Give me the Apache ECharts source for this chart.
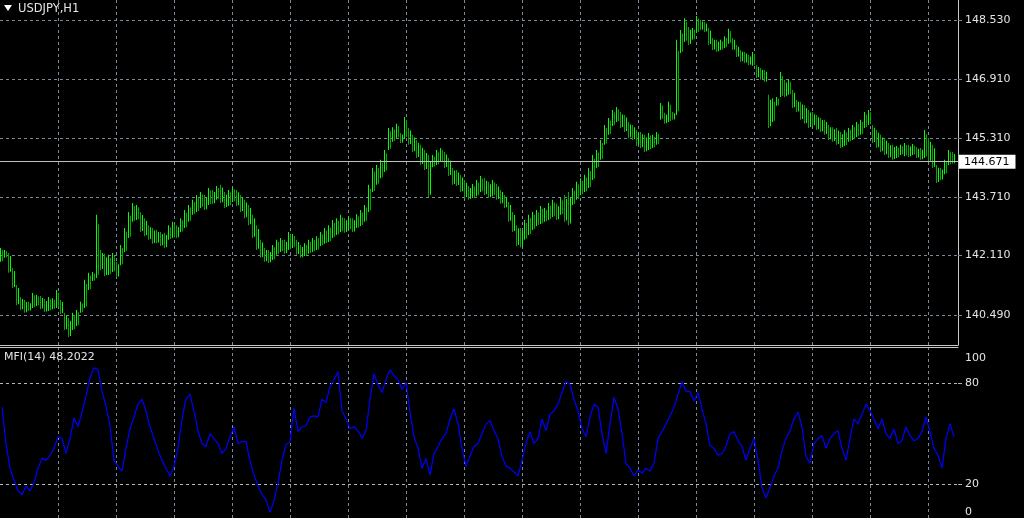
<!DOCTYPE html>
<html><head><meta charset="utf-8">
<script src="https://cdn.jsdelivr.net/npm/echarts@6/dist/echarts.min.js"></script>
<style>html,body{margin:0;padding:0;background:#000;}#c{width:1024px;height:518px;}</style>
</head><body><div id="c"></div>
<script>
const symbolName = 'USDJPY,H1';
const indicatorName = 'MFI(14)';
const lastPrice = 144.671;
const lastMfi = 48.2022;
const priceTicks = [140.49, 142.11, 143.71, 145.31, 146.91, 148.53];
const mfiLevels = [20, 80];
const mfiLabels = [0, 20, 80, 100];

const barHigh = [
142.32,142.26,142.18,141.77,141.31,140.98,140.90,140.85,141.09,141.04,
141.01,140.93,140.98,140.95,141.17,140.90,140.55,140.41,140.55,140.63,
140.85,141.45,141.64,141.66,143.22,142.26,142.16,142.13,142.18,141.94,
142.40,142.86,143.30,143.54,143.49,143.30,143.13,142.94,142.86,142.81,
142.75,142.73,142.94,143.03,142.94,143.13,143.35,143.49,143.63,143.76,
143.84,143.76,143.95,143.90,144.01,144.04,143.84,143.90,143.98,143.90,
143.76,143.63,143.49,143.22,142.94,142.54,142.32,142.26,142.40,142.54,
142.59,142.54,142.75,142.70,142.54,142.40,142.45,142.54,142.59,142.64,
142.75,142.86,142.94,143.08,143.13,143.22,143.13,143.19,143.13,143.24,
143.35,143.49,144.04,144.50,144.58,144.72,144.99,145.59,145.61,145.70,
145.45,145.89,145.59,145.40,145.26,145.13,144.99,144.85,144.85,144.99,
145.04,144.93,144.77,144.50,144.44,144.31,144.17,144.01,144.06,144.17,
144.28,144.22,144.12,144.17,144.06,143.90,143.76,143.57,143.30,142.94,
142.86,143.08,143.22,143.30,143.35,143.46,143.41,143.54,143.63,143.52,
143.68,143.76,143.84,143.95,144.12,144.22,144.31,144.50,144.85,144.99,
145.26,145.67,145.86,146.08,146.16,146.02,145.94,145.75,145.67,145.53,
145.48,145.40,145.45,145.40,145.48,146.27,146.00,146.30,146.02,147.99,
148.26,148.58,148.34,148.31,148.64,148.53,148.48,148.31,148.04,147.99,
147.99,148.09,148.29,148.04,147.85,147.71,147.66,147.58,147.66,147.30,
147.22,147.17,146.49,146.40,146.43,147.11,146.90,146.90,146.62,146.35,
146.30,146.21,146.08,146.02,145.94,145.86,145.81,145.67,145.61,145.59,
145.48,145.53,145.59,145.67,145.75,145.81,146.02,146.08,145.67,145.53,
145.40,145.31,145.18,145.13,145.10,145.13,145.18,145.13,145.15,145.07,
145.04,145.53,145.31,145.13,144.58,144.50,144.72,144.99,144.93
];
const barLow = [
141.94,142.05,141.64,141.23,140.76,140.63,140.55,140.60,140.68,140.74,
140.65,140.57,140.60,140.65,140.68,140.52,140.08,139.89,140.08,140.19,
140.55,140.68,141.17,141.42,141.50,141.72,141.55,141.58,141.66,141.52,
141.85,142.21,142.59,143.03,143.08,142.75,142.64,142.54,142.43,142.45,
142.37,142.32,142.54,142.59,142.59,142.75,142.86,143.03,143.22,143.30,
143.41,143.35,143.49,143.52,143.63,143.54,143.41,143.46,143.57,143.46,
143.30,143.13,142.94,142.59,142.26,142.05,141.94,141.91,141.99,142.13,
142.21,142.16,142.26,142.32,142.13,142.05,142.10,142.16,142.21,142.26,
142.37,142.43,142.48,142.59,142.67,142.75,142.73,142.81,142.75,142.86,
142.92,143.03,143.30,143.84,144.04,144.22,144.39,144.99,145.21,145.31,
145.18,145.31,145.13,144.93,144.77,144.58,144.44,143.71,144.52,144.58,
144.66,144.50,144.28,144.04,144.01,143.84,143.68,143.63,143.68,143.73,
143.84,143.76,143.68,143.73,143.63,143.52,143.41,143.03,142.75,142.37,
142.34,142.54,142.67,142.81,142.92,142.97,143.03,143.08,143.16,143.08,
143.22,143.03,142.94,143.49,143.63,143.76,143.84,143.95,144.17,144.50,
144.72,145.13,145.40,145.64,145.75,145.59,145.48,145.31,145.26,145.10,
145.04,144.93,144.99,145.04,145.13,145.81,145.70,145.75,145.81,145.94,
147.63,147.93,147.85,147.99,148.18,148.26,148.20,147.85,147.71,147.66,
147.71,147.77,147.88,147.71,147.52,147.39,147.36,147.30,147.28,146.95,
146.90,146.84,145.59,145.75,146.19,146.43,146.43,146.49,146.13,146.02,
145.81,145.70,145.59,145.64,145.53,145.48,145.40,145.26,145.21,145.13,
145.04,145.10,145.21,145.26,145.34,145.40,145.59,145.67,145.18,145.04,
144.93,144.85,144.77,144.72,144.77,144.85,144.82,144.80,144.85,144.77,
144.72,144.77,144.66,144.50,144.09,144.17,144.33,144.58,144.61
];
const mfi = [
65.6,44.1,29.5,22.5,16.1,13.8,19.0,16.1,20.8,29.5,
35.3,34.1,37.1,41.2,48.1,47.0,38.2,47.0,59.2,54.0,
62.7,72.0,83.1,88.9,87.8,74.9,66.2,54.6,34.1,30.7,
27.8,41.2,52.8,59.8,67.4,70.3,63.3,54.0,47.0,40.0,
34.1,29.5,24.9,30.7,41.2,58.6,70.3,73.2,63.3,51.6,
44.1,42.3,49.9,47.0,44.1,38.2,41.2,48.1,54.0,44.1,
45.2,45.2,33.6,25.4,19.0,13.8,10.9,3.3,10.3,20.8,
34.1,43.5,45.2,65.0,51.1,54.0,54.6,59.8,60.4,59.8,
70.3,68.5,77.8,81.9,86.6,63.3,58.6,52.8,54.0,51.6,
47.0,51.6,70.3,85.4,79.0,74.3,81.9,87.8,84.2,81.9,
76.1,80.2,62.7,48.1,41.2,29.5,35.3,25.4,38.2,42.3,
47.0,49.9,58.6,64.5,55.7,41.2,30.7,36.5,42.3,44.1,
49.9,55.7,57.5,51.6,47.0,36.5,30.7,29.5,27.2,24.9,
34.1,44.1,51.1,44.1,47.0,58.6,51.6,61.6,63.3,67.4,
74.3,80.8,79.0,70.3,63.3,52.8,48.1,59.8,67.4,65.6,
49.9,38.2,55.7,71.4,64.5,49.9,32.4,29.5,24.9,28.4,
26.6,29.5,27.8,32.4,47.0,51.1,55.7,60.4,65.6,73.2,
80.8,74.9,74.9,69.1,74.3,64.5,55.7,42.9,41.2,37.1,
38.2,42.3,49.9,51.1,45.8,42.3,34.1,41.2,47.0,34.1,
17.9,12.0,17.9,24.9,29.5,40.0,47.0,51.6,58.6,62.7,
54.0,36.5,32.4,44.1,47.0,48.7,41.2,47.0,49.9,51.6,
41.2,34.1,47.0,58.6,55.7,61.6,67.4,63.3,58.6,52.8,
58.6,49.9,47.0,52.8,44.1,45.8,54.0,48.7,45.8,47.0,
51.1,59.8,51.1,41.2,37.1,29.5,47.0,55.7,48.2
];

const N = barHigh.length;
const barData = barHigh.map((h, i) => {
  const mid = (h + barLow[i]) / 2;
  const prev = i > 0 ? (barHigh[i-1] + barLow[i-1]) / 2 : mid;
  return [i + 0.5, barLow[i], h, mid >= prev ? 1 : 0];
});
const mfiData = mfi.map((v, i) => [i + 0.5, v]);

const FONT = 'DejaVu Sans';
const TXT = '#e4e4e4';
const GRIDC = '#778899';
const BORDER = '#c8c8c8';
const BRIGHT = '#00ff00';
const DARK = '#00a800';

const xAxisBase = (gi, pos) => ({
  type: 'value', gridIndex: gi, position: pos, min: 0, max: N + 0.5, interval: 14.5,
  axisLine: { show: true, onZero: false, lineStyle: { color: BORDER, width: 1 } },
  axisTick: { show: false }, axisLabel: { show: false },
  splitLine: { show: true, showMinLine: false, showMaxLine: false, lineStyle: { color: GRIDC, type: [3, 3], width: 1 } }
});

const chart = echarts.init(document.getElementById('c'), null, { renderer: 'canvas' });
chart.setOption({
  animation: false,
  backgroundColor: '#000000',
  textStyle: { fontFamily: FONT },
  title: [
    { text: symbolName, left: 18, top: 3, padding: 0, textStyle: { color: TXT, fontSize: 11.5, fontWeight: 'normal', fontFamily: FONT } },
    { text: indicatorName + ' ' + lastMfi.toFixed(4), left: 4, top: 352, padding: 0, textStyle: { color: TXT, fontSize: 11, fontWeight: 'normal', fontFamily: FONT } }
  ],
  graphic: [
    { type: 'polygon', shape: { points: [[4, 5], [12, 5], [8, 11]] }, style: { fill: '#ffffff' } }
  ],
  grid: [
    { left: 0, top: 0, width: 958, height: 345 },
    { left: 0, top: 347, width: 958, height: 173 }
  ],
  xAxis: [ xAxisBase(0, 'bottom'), xAxisBase(1, 'top') ],
  yAxis: [
    {
      type: 'value', gridIndex: 0, position: 'right', min: 139.674, max: 149.075,
      axisLine: { show: true, onZero: false, lineStyle: { color: BORDER } },
      axisTick: { show: true, length: 4, customValues: priceTicks, lineStyle: { color: GRIDC } },
      axisLabel: { show: true, customValues: priceTicks, margin: 7, color: TXT, fontSize: 11, fontFamily: FONT,
        formatter: v => Number(v).toFixed(3) },
      splitLine: { show: true, lineStyle: { color: GRIDC, type: [3, 3], width: 1 } }
    },
    {
      type: 'value', gridIndex: 1, position: 'right', min: 0, max: 101.2,
      axisLine: { show: false, onZero: false },
      axisTick: { show: true, length: 4, customValues: mfiLevels, lineStyle: { color: '#b0b0b0' } },
      axisLabel: { show: true, customValues: mfiLabels, margin: 7, color: TXT, fontSize: 11, fontFamily: FONT,
        verticalAlignMinLabel: 'bottom', verticalAlignMaxLabel: 'top',
        formatter: v => Math.round(v) === 100 ? '{t|100}' : String(Math.round(v)),
        rich: { t: { color: TXT, fontSize: 11, fontFamily: FONT, padding: [4, 0, 0, 0] } } },
      splitLine: { show: true, lineStyle: { color: '#b8b8b8', type: [3, 3], width: 1 } }
    }
  ],
  series: [
    {
      type: 'custom', xAxisIndex: 0, yAxisIndex: 0, data: barData, clip: true,
      renderItem: function (params, api) {
        const x = api.value(0), lo = api.value(1), hi = api.value(2), up = api.value(3);
        const pHi = api.coord([x, hi]);
        const pLo = api.coord([x, lo]);
        const cx = Math.round(pHi[0]);
        const h = Math.max(1, pLo[1] - pHi[1]);
        return { type: 'group', children: [
          { type: 'rect', shape: { x: cx - 2, y: pHi[1], width: 1, height: h }, style: { fill: up ? BRIGHT : DARK } },
          { type: 'rect', shape: { x: cx, y: pHi[1] + h * 0.15, width: 1, height: h * 0.8 }, style: { fill: up ? DARK : BRIGHT } }
        ] };
      },
      markLine: {
        silent: true, symbol: 'none', animation: false,
        data: [{ yAxis: lastPrice }],
        lineStyle: { color: '#c0c0c0', type: 'solid', width: 1 },
        label: { show: true, position: 'end', distance: 1, formatter: lastPrice.toFixed(3), color: '#000', backgroundColor: '#ffffff',
          padding: [2, 6, 1, 5], fontSize: 11, fontFamily: FONT }
      }
    },
    {
      type: 'line', xAxisIndex: 1, yAxisIndex: 1, data: mfiData, showSymbol: false, symbol: 'none',
      lineStyle: { color: '#0000ff', width: 1.2 }, clip: true
    }
  ]
});
</script>
</body></html>
